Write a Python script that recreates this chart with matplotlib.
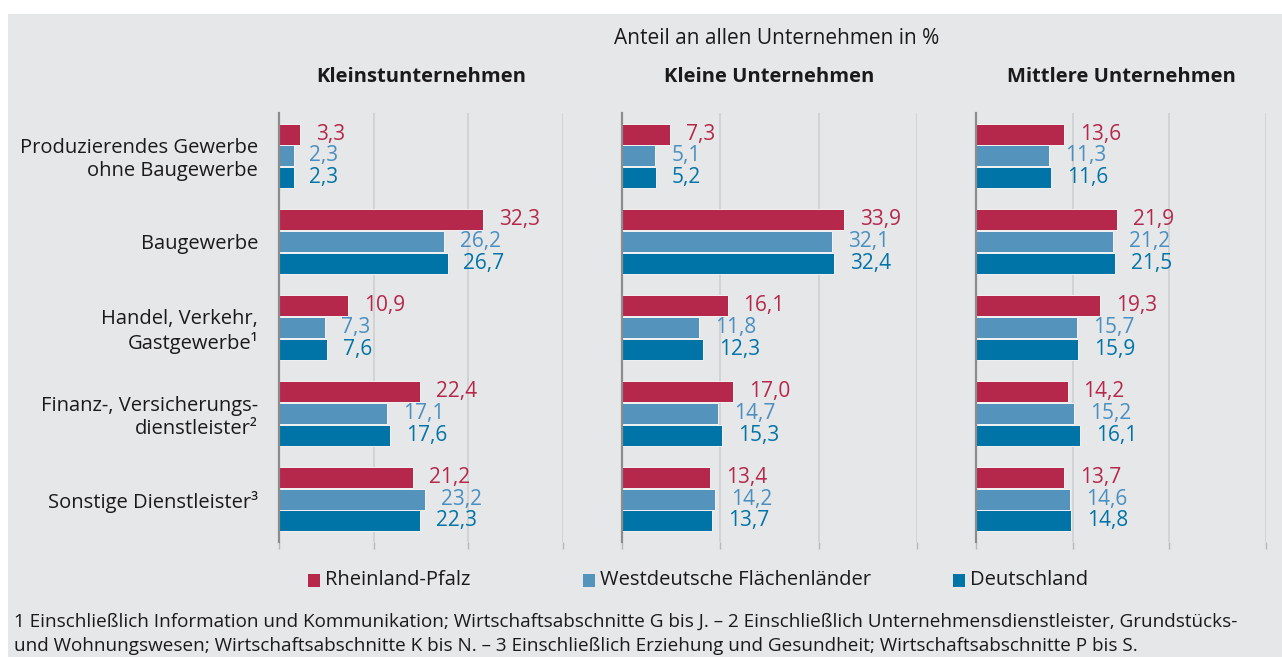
import matplotlib.pyplot as plt
from matplotlib.patches import Rectangle

plt.rcParams['font.family'] = ['Open Sans', 'DejaVu Sans']

# data
categories = ['Produzierendes Gewerbe\nohne Baugewerbe', 'Baugewerbe',
              'Handel, Verkehr,\nGastgewerbe\u00b9', 'Finanz-, Versicherungs-\ndienstleister\u00b2',
              'Sonstige Dienstleister\u00b3']
panels = ['Kleinstunternehmen', 'Kleine Unternehmen', 'Mittlere Unternehmen']
series = ['Rheinland-Pfalz', 'Westdeutsche Fl\u00e4chenl\u00e4nder', 'Deutschland']

rlp_klein = [3.3, 32.3, 10.9, 22.4, 21.2]
west_klein = [2.3, 26.2, 7.3, 17.1, 23.2]
de_klein = [2.3, 26.7, 7.6, 17.6, 22.3]

rlp_kleine = [7.3, 33.9, 16.1, 17.0, 13.4]
west_kleine = [5.1, 32.1, 11.8, 14.7, 14.2]
de_kleine = [5.2, 32.4, 12.3, 15.3, 13.7]

rlp_mittel = [13.6, 21.9, 19.3, 14.2, 13.7]
west_mittel = [11.3, 21.2, 15.7, 15.2, 14.6]
de_mittel = [11.6, 21.5, 15.9, 16.1, 14.8]

panel_data = [
    [rlp_klein, west_klein, de_klein],
    [rlp_kleine, west_kleine, de_kleine],
    [rlp_mittel, west_mittel, de_mittel],
]

xticks = [0, 15, 30, 45]

colors = ['#b5284b', '#5493bb', '#0074a6']
label_colors = ['#b5284b', '#4a8fc0', '#0074a6']
bg = '#e6e7e9'
txt = '#1a1a1a'
W, H = 1282, 657

fig = plt.figure(figsize=(W / 100, H / 100), dpi=100)
fig.patches.append(Rectangle((8 / W, 0), 1 - 8 / W, 1 - 14 / H, transform=fig.transFigure,
                             facecolor=bg, edgecolor='none', zorder=-10))

lefts = [279, 622, 976]
widths = [284, 295, 290]
top, bottom = 113, 542
bar_h = 0.245
offsets = [-0.255, 0.0, 0.255]

for p, (left, width) in enumerate(zip(lefts, widths)):
    ax = fig.add_axes([left / W, 1 - bottom / H, width / W, (bottom - top) / H])
    ax.set_facecolor('none')
    ypos = range(len(categories))
    for s in range(3):
        vals = panel_data[p][s]
        ys = [y + offsets[s] for y in ypos]
        ax.barh(ys, vals, height=bar_h, color=colors[s], edgecolor='#f2f2f2',
                linewidth=0.7, zorder=3)
        for y, v in zip(ys, vals):
            ax.annotate(f'{v:.1f}'.replace('.', ','), xy=(v, y), xytext=(11.5, 0),
                        textcoords='offset points', ha='left', va='center',
                        fontsize=15, color=label_colors[s])
    ax.set_xlim(0, 45)
    ax.set_ylim(4.5, -0.5)
    ax.set_xticks(xticks)
    ax.tick_params(axis='x', length=5, color='#b8b8ba', labelbottom=False, width=1)
    ax.tick_params(axis='y', length=0)
    ax.grid(True, axis='x', color='#cfd0d2', linewidth=1.2, zorder=0)
    for side in ['top', 'right', 'bottom']:
        ax.spines[side].set_visible(False)
    ax.spines['left'].set_color('#8c8c8c')
    ax.spines['left'].set_linewidth(1.6)
    ax.spines['left'].set_zorder(4)
    if p == 0:
        ax.set_yticks(list(ypos))
        ax.set_yticklabels(categories, fontsize=14.5, color=txt, linespacing=1.2)
        ax.tick_params(axis='y', pad=15)
    else:
        ax.set_yticks([])
    fig.text((left + width / 2) / W, 1 - 77 / H, panels[p], ha='center', va='center',
             fontsize=14.5, fontweight='bold', color=txt)

fig.text(777 / W, 1 - 38 / H, 'Anteil an allen Unternehmen in %', ha='center', va='center',
         fontsize=15, color=txt)

# legend
leg_x = [308, 583, 953]
for i, name in enumerate(series):
    fig.patches.append(Rectangle((leg_x[i] / W, 1 - 587 / H), 12 / W, 13 / H,
                                 transform=fig.transFigure, facecolor=colors[i],
                                 edgecolor='none'))
    fig.text((leg_x[i] + 17) / W, 1 - 580 / H, name, ha='left', va='center',
             fontsize=14.5, color=txt)

fig.text(14 / W, 1 - 622 / H,
         '1 Einschlie\u00dflich Information und Kommunikation; Wirtschaftsabschnitte G bis J. \u2013 '
         '2 Einschlie\u00dflich Unternehmensdienstleister, Grundst\u00fccks-',
         ha='left', va='center', fontsize=13.6, color=txt)
fig.text(14 / W, 1 - 646 / H,
         'und Wohnungswesen; Wirtschaftsabschnitte K bis N. \u2013 3 Einschlie\u00dflich Erziehung '
         'und Gesundheit; Wirtschaftsabschnitte P bis S.',
         ha='left', va='center', fontsize=13.6, color=txt)

fig.savefig('out.png', dpi=100, facecolor='white')
